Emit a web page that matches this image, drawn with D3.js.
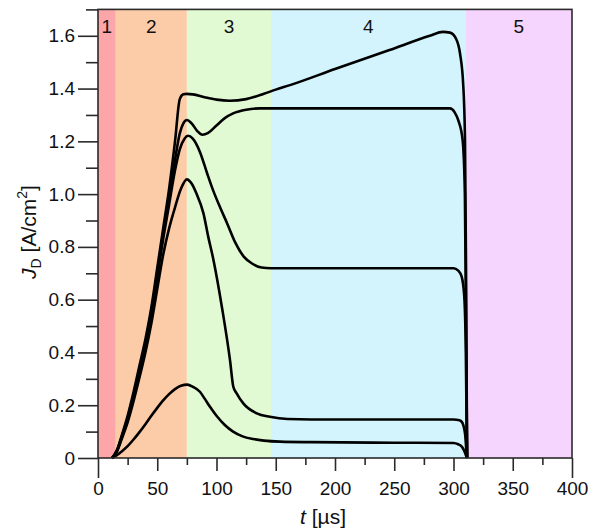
<!DOCTYPE html>
<html>
<head>
<meta charset="utf-8">
<script src="https://cdn.jsdelivr.net/npm/d3@7"></script>
<style>
    body { margin: 0; background: #fff; }
    text { font-family: "Liberation Sans", Arial, sans-serif; fill: #111; }
</style>
</head>
<body>
<div id="chart"></div>
<script>
// phase boundaries [µs] and labels
const phaseBounds = [0, 15, 75, 146, 310, 400];
const phaseLabels = ["1", "2", "3", "4", "5"];
const phaseColors = ["#fca6aa", "#fccba7", "#e2fad3", "#d4f4fd", "#f5d4fd"];

// tick values
const xMajor = [0, 50, 100, 150, 200, 250, 300, 350, 400];
const xMinor = [25, 75, 125, 175, 225, 275, 325, 375];
const yMajor = [0, 0.2, 0.4, 0.6, 0.8, 1.0, 1.2, 1.4, 1.6];
const yMinor = [0.1, 0.3, 0.5, 0.7, 0.9, 1.1, 1.3, 1.5, 1.7];

// current density curves [t (µs), J (A/cm2)]
const curve1 = [[12,0],[16,0.03],[20,0.085],[25,0.16],[30,0.25],[35,0.35],[40,0.45],[45,0.57],[50,0.72],[55,0.87],[60,1.02],[65,1.2],[69,1.36],[72,1.378],[75,1.38],[80,1.378],[90,1.367],[100,1.358],[111,1.354],[125,1.36],[140,1.38],[150,1.396],[162,1.413],[200,1.474],[246,1.546],[280,1.6],[291,1.615],[297,1.612],[302,1.59],[305.5,1.533],[308.3,1.407],[309.7,1.205],[310.6,0.7],[311.3,0.15],[311.6,0]];
const curve2 = [[12,0],[16,0.028],[20,0.08],[25,0.15],[30,0.235],[35,0.33],[40,0.43],[45,0.55],[50,0.7],[55,0.85],[60,0.99],[65,1.13],[69,1.23],[72,1.268],[75,1.281],[79,1.268],[84,1.238],[88,1.225],[93,1.232],[100,1.26],[107,1.288],[114,1.306],[125,1.32],[137,1.325],[200,1.325],[297,1.325],[301,1.31],[304,1.28],[307.7,1.205],[309.6,1.0],[310.6,0.5],[311.5,0]];
const curve3 = [[12,0],[16,0.027],[20,0.077],[25,0.145],[30,0.228],[35,0.32],[40,0.42],[45,0.535],[50,0.685],[55,0.83],[60,0.96],[65,1.09],[69,1.17],[73,1.21],[76,1.221],[80,1.21],[86,1.16],[92,1.08],[97,1.016],[103,0.95],[109,0.889],[116,0.815],[123,0.763],[130,0.737],[138,0.722],[146,0.719],[200,0.719],[300,0.719],[304,0.71],[306.9,0.687],[309.1,0.611],[310.4,0.4],[311.4,0]];
const curve4 = [[12,0],[16,0.025],[20,0.072],[25,0.135],[30,0.215],[35,0.305],[40,0.4],[45,0.51],[50,0.64],[55,0.77],[60,0.87],[65,0.95],[70,1.02],[75,1.056],[79,1.04],[83,1.003],[89,0.927],[93,0.839],[97,0.76],[105,0.56],[111.4,0.371],[114.2,0.27],[117,0.245],[122.6,0.207],[134,0.169],[145,0.156],[160,0.148],[200,0.146],[300,0.146],[305,0.143],[307,0.137],[309.7,0.094],[311.2,0]];
const curve5 = [[11.5,0],[15,0.008],[20,0.025],[25,0.045],[30,0.07],[35,0.098],[40,0.128],[45,0.16],[50,0.19],[55,0.218],[60,0.242],[65,0.261],[70,0.274],[75.4,0.278],[80,0.27],[86,0.251],[90,0.225],[94.5,0.194],[100,0.16],[107,0.125],[114,0.1],[122,0.082],[131,0.072],[140,0.066],[153.6,0.062],[180,0.06],[250,0.058],[300,0.057],[304,0.052],[307,0.043],[309,0.028],[311,0.005],[312,0]];
const curves = [curve1, curve2, curve3, curve4, curve5];

// set dimensions
const width = 590,
    height = 531,
    margin = { top: 9.4, right: 18, bottom: 73, left: 98 };

const svg = d3.select("#chart")
    .append("svg")
    .attr("width", width)
    .attr("height", height);

// create scales
const xScale = d3.scaleLinear()
    .domain([0, 400])
    .range([margin.left, width - margin.right]);

const yScale = d3.scaleLinear()
    .domain([0, 1.7])
    .range([height - margin.bottom, margin.top]);

const plotTop = yScale(1.7),
    plotBottom = yScale(0);

// phase backgrounds
svg.append("g")
    .selectAll("rect")
    .data(phaseLabels)
    .enter()
    .append("rect")
    .attr("x", (d, i) => xScale(phaseBounds[i]))
    .attr("width", (d, i) => xScale(phaseBounds[i + 1]) - xScale(phaseBounds[i]))
    .attr("y", plotTop)
    .attr("height", plotBottom - plotTop)
    .attr("fill", (d, i) => phaseColors[i]);

// phase labels
svg.append("g")
    .selectAll("text")
    .data(phaseLabels)
    .enter()
    .append("text")
    .attr("x", (d, i) => (xScale(phaseBounds[i]) + xScale(phaseBounds[i + 1])) / 2)
    .attr("y", 33)
    .attr("text-anchor", "middle")
    .style("font-size", "19px")
    .text(d => d);

// curves
const line = d3.line()
    .x(d => xScale(d[0]))
    .y(d => yScale(d[1]))
    .curve(d3.curveMonotoneX);

svg.append("g")
    .selectAll("path")
    .data(curves)
    .enter()
    .append("path")
    .attr("d", line)
    .attr("fill", "none")
    .attr("stroke", "#000")
    .attr("stroke-width", 2.6)
    .attr("stroke-linejoin", "round");

// frame
svg.append("rect")
    .attr("x", xScale(0))
    .attr("y", plotTop)
    .attr("width", xScale(400) - xScale(0))
    .attr("height", plotBottom - plotTop)
    .attr("fill", "none")
    .attr("stroke", "#2a2a2a")
    .attr("stroke-width", 1.6);

// create axes
const yFormat = d => d === 0 ? "0" : d3.format(".1f")(d);

const xAxis = svg.append("g")
    .attr("transform", `translate(0,${plotBottom})`)
    .call(d3.axisBottom(xScale).tickValues(xMajor).tickSize(13).tickPadding(11));
xAxis.selectAll(".tick line")
    .attr("y2", d => (d === 0 || d === 400) ? 20 : 13);

const xMinorAxis = svg.append("g")
    .attr("transform", `translate(0,${plotBottom})`)
    .call(d3.axisBottom(xScale).tickValues(xMinor).tickSize(7).tickFormat(""));

const yAxis = svg.append("g")
    .attr("transform", `translate(${xScale(0)},0)`)
    .call(d3.axisLeft(yScale).tickValues(yMajor).tickSize(20).tickPadding(3).tickFormat(yFormat));

const yMinorAxis = svg.append("g")
    .attr("transform", `translate(${xScale(0)},0)`)
    .call(d3.axisLeft(yScale).tickValues(yMinor).tickSize(12).tickFormat(""));

[xAxis, xMinorAxis, yAxis, yMinorAxis].forEach(a => {
    a.select(".domain").remove();
    a.selectAll(".tick line").attr("stroke", "#2a2a2a").attr("stroke-width", 1.6);
    a.selectAll(".tick text").style("font-size", "19px").attr("fill", "#111");
});

// axis titles
const xTitle = svg.append("text")
    .attr("x", 323)
    .attr("y", 524)
    .attr("text-anchor", "middle")
    .style("font-size", "21px");
xTitle.append("tspan").style("font-style", "italic").text("t");
xTitle.append("tspan").text(" [µs]");

const yTitle = svg.append("text")
    .attr("transform", "translate(36,232) rotate(-90)")
    .attr("text-anchor", "middle")
    .style("font-size", "21px");
yTitle.append("tspan").style("font-style", "italic").text("J");
yTitle.append("tspan").attr("dy", 5).style("font-size", "14px").text("D");
yTitle.append("tspan").attr("dy", -5).text(" [A/cm");
yTitle.append("tspan").attr("dy", -9).style("font-size", "14px").text("2");
yTitle.append("tspan").attr("dy", 9).text("]");
</script>
</body>
</html>
